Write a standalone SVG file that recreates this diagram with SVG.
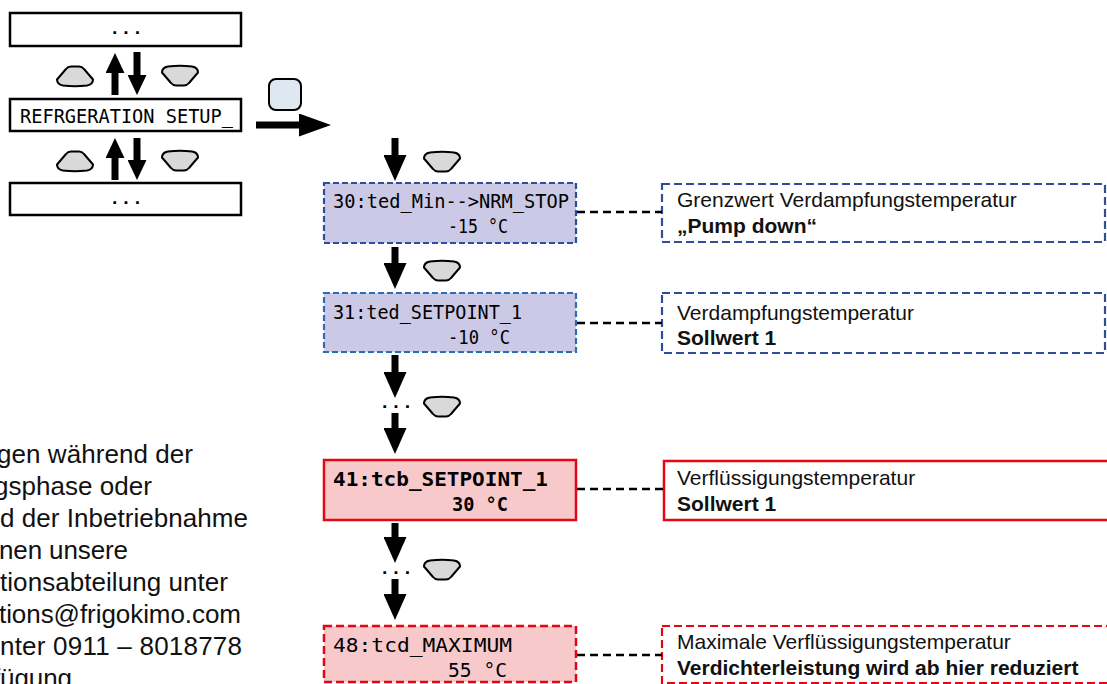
<svg xmlns="http://www.w3.org/2000/svg" width="1107" height="684" viewBox="0 0 1107 684">
<style>
.lcd{font-family:"DejaVu Sans Mono","Liberation Mono",monospace;font-size:19px;fill:#000}
.lcdb{font-family:"DejaVu Sans Mono","Liberation Mono",monospace;font-size:20px;font-weight:bold;fill:#000}
.desc{font-family:"Liberation Sans",Arial,sans-serif;font-size:21px;fill:#111}
.descb{font-family:"Liberation Sans",Arial,sans-serif;font-size:21px;font-weight:bold;fill:#111}
.para{font-family:"Liberation Sans",Arial,sans-serif;font-size:26px;fill:#111}
.menu{fill:#fff;stroke:#000;stroke-width:2.5}
.blue{fill:#cbc9e6;stroke-width:2.2;stroke-dasharray:6 3}
.red{fill:#f8c9cb;stroke:#e30613;stroke-width:2.5}
.dblue{fill:#fff;stroke:#2c4f9c;stroke-width:2.2;stroke-dasharray:8 4}
.dred{fill:#fff;stroke:#e30613;stroke-width:2.2;stroke-dasharray:8 4}
.btn{fill:#d9d9d9;stroke:#000;stroke-width:2;stroke-linejoin:round}
.conn{stroke:#000;stroke-width:2.5;stroke-dasharray:8 5;fill:none}
.arr{stroke:#000;stroke-width:7;fill:none}
.dots{font-family:"Liberation Mono",monospace;font-size:19px;font-weight:bold;fill:#000}
</style>
<defs>
<path id="btnDown" d="M -18,-3.5 Q -18,-8.5 -12,-9.5 Q 0,-11 12,-9.5 Q 18,-8.5 18,-3.5 L 9,7 Q 7,9.5 4,9.5 L -4,9.5 Q -7,9.5 -9,7 Z"/>
<marker id="ahS" viewBox="0 0 20 19" refX="0" refY="9.5" markerWidth="20" markerHeight="19" markerUnits="userSpaceOnUse" orient="auto"><path d="M0,0 L20,9.5 L0,19 Z" fill="#000"/></marker>
<marker id="ahM" viewBox="0 0 26 23" refX="0" refY="11.5" markerWidth="26" markerHeight="23" markerUnits="userSpaceOnUse" orient="auto"><path d="M0,0 L26,11.5 L0,23 Z" fill="#000"/></marker>
<marker id="ahR" viewBox="0 0 32 23" refX="0" refY="11.5" markerWidth="32" markerHeight="23" markerUnits="userSpaceOnUse" orient="auto"><path d="M0,0 L32,11.5 L0,23 Z" fill="#000"/></marker>
</defs>

<g id="menu-top"><rect class="menu" x="10" y="13" width="231" height="33"/><text class="dots" x="126" y="34" text-anchor="middle">...</text></g>
<g id="menu-refrigeration"><rect class="menu" x="10" y="99" width="231" height="32"/><text class="lcd" x="20" y="123" font-size="21" textLength="213" lengthAdjust="spacingAndGlyphs">REFRGERATION SETUP_</text></g>
<g id="menu-bottom"><rect class="menu" x="10" y="183" width="231" height="32"/><text class="dots" x="126" y="204" text-anchor="middle">...</text></g>

<g id="buttons">
<use href="#btnDown" class="btn" transform="translate(75,76) scale(1,-1)"/>
<use href="#btnDown" class="btn" transform="translate(180,76)"/>
<use href="#btnDown" class="btn" transform="translate(75,161) scale(1,-1)"/>
<use href="#btnDown" class="btn" transform="translate(180,161)"/>
<rect x="269" y="79" width="32" height="31" rx="7" fill="#dfe7f0" stroke="#000" stroke-width="2"/>
<use href="#btnDown" class="btn" transform="translate(442,162)"/>
<use href="#btnDown" class="btn" transform="translate(442,271)"/>
<use href="#btnDown" class="btn" transform="translate(442,407)"/>
<use href="#btnDown" class="btn" transform="translate(442,570)"/>
</g>

<g id="box30"><rect class="blue" stroke="#2c4f9c" x="324" y="183" width="252" height="60"/>
<text class="lcd" x="333" y="208" textLength="236" lengthAdjust="spacingAndGlyphs">30:ted_Min--&gt;NRM_STOP</text>
<text class="lcd" x="448" y="233" textLength="60" lengthAdjust="spacingAndGlyphs">-15 °C</text></g>

<g id="box31"><rect class="blue" stroke="#2d6db5" x="324" y="293" width="252" height="59"/>
<text class="lcd" x="333" y="319" textLength="189" lengthAdjust="spacingAndGlyphs">31:ted_SETPOINT_1</text>
<text class="lcd" x="448" y="344" textLength="62" lengthAdjust="spacingAndGlyphs">-10 °C</text></g>

<g id="box41"><rect class="red" x="324" y="460" width="252" height="60"/>
<text class="lcdb" x="333" y="486" textLength="215" lengthAdjust="spacingAndGlyphs">41:tcb_SETPOINT_1</text>
<text class="lcdb" x="452" y="511" textLength="56" lengthAdjust="spacingAndGlyphs">30 °C</text></g>

<g id="box48"><rect class="red" stroke-dasharray="8 4" stroke-width="2.2" x="324" y="626" width="252" height="56"/>
<text class="lcd" x="333" y="652" textLength="179" lengthAdjust="spacingAndGlyphs">48:tcd_MAXIMUM</text>
<text class="lcd" x="448" y="677" textLength="59" lengthAdjust="spacingAndGlyphs">55 °C</text></g>

<g id="desc30"><rect class="dblue" x="662" y="184" width="443" height="58"/>
<text class="desc" x="677" y="207">Grenzwert Verdampfungstemperatur</text>
<text class="descb" x="677" y="233">„Pump down“</text></g>

<g id="desc31"><rect class="dblue" x="662" y="293" width="443" height="60"/>
<text class="desc" x="677" y="320">Verdampfungstemperatur</text>
<text class="descb" x="677" y="345">Sollwert 1</text></g>

<g id="desc41"><rect class="red" style="fill:#fff" x="664" y="461" width="450" height="59"/>
<text class="desc" x="677" y="485">Verflüssigungstemperatur</text>
<text class="descb" x="677" y="511">Sollwert 1</text></g>

<g id="desc48"><rect class="dred" x="662" y="626" width="452" height="57"/>
<text class="desc" x="677" y="649">Maximale Verflüssigungstemperatur</text>
<text class="descb" x="677" y="675">Verdichterleistung wird ab hier reduziert</text></g>

<g id="info-text" class="para">
<text x="193" y="463" text-anchor="end" textLength="196" lengthAdjust="spacing">gen während der</text>
<text x="152" y="495" text-anchor="end" textLength="158" lengthAdjust="spacing">gsphase oder</text>
<text x="248" y="527" text-anchor="end" textLength="248" lengthAdjust="spacing">d der Inbetriebnahme</text>
<text x="128" y="559" text-anchor="end" textLength="129" lengthAdjust="spacing">nen unsere</text>
<text x="228" y="591" text-anchor="end" textLength="228" lengthAdjust="spacing">tionsabteilung unter</text>
<text x="241" y="623" text-anchor="end" textLength="242" lengthAdjust="spacing">tions@frigokimo.com</text>
<text x="242" y="655" text-anchor="end" textLength="242" lengthAdjust="spacing">nter 0911 – 8018778</text>
<text x="72" y="687" text-anchor="end" textLength="79" lengthAdjust="spacing">fügung</text>
</g>

<g id="connectors">
<line class="arr" x1="115" y1="95" x2="115" y2="73" marker-end="url(#ahS)"/>
<line class="arr" x1="137" y1="52" x2="137" y2="75" marker-end="url(#ahS)"/>
<line class="arr" x1="115" y1="180" x2="115" y2="158" marker-end="url(#ahS)"/>
<line class="arr" x1="137" y1="138" x2="137" y2="160" marker-end="url(#ahS)"/>
<line class="arr" x1="256" y1="125" x2="299" y2="125" marker-end="url(#ahR)"/>
<line class="arr" x1="395" y1="138" x2="395" y2="155" marker-end="url(#ahM)"/>
<line class="arr" x1="395" y1="247" x2="395" y2="263" marker-end="url(#ahM)"/>
<line class="arr" x1="395" y1="355" x2="395" y2="372" marker-end="url(#ahM)"/>
<text class="dots" x="396" y="408" text-anchor="middle">...</text>
<line class="arr" x1="395" y1="413" x2="395" y2="428" marker-end="url(#ahM)"/>
<line class="arr" x1="395" y1="523" x2="395" y2="537" marker-end="url(#ahM)"/>
<text class="dots" x="396" y="574" text-anchor="middle">...</text>
<line class="arr" x1="395" y1="579" x2="395" y2="594" marker-end="url(#ahM)"/>
<line class="conn" x1="577" y1="212" x2="662" y2="212"/>
<line class="conn" x1="577" y1="323" x2="662" y2="323"/>
<line class="conn" x1="577" y1="489" x2="664" y2="489"/>
<line class="conn" x1="577" y1="655" x2="662" y2="655"/>
</g>
</svg>
